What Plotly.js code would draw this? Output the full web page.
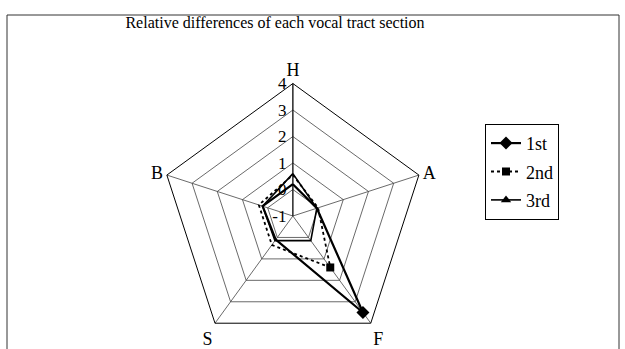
<!DOCTYPE html>
<html>
<head>
<meta charset="utf-8">
<script src="https://cdn.plot.ly/plotly-3.0.1.min.js"></script>
<style>html,body{margin:0;padding:0;background:#fff;}#chart{width:625px;height:349px;}</style>
</head>
<body>
<div id="chart"></div>
<script>
// Categories (clockwise from top)
const categories = ["H", "A", "F", "S", "B"];
// Series values
const first  = [0.2, -0.05, 3.5, 0.1, 0.2];
const second = [0.55, 0.0, 1.4, 0.35, 0.35];
const third  = [0.6, -0.05, 0.15, 0.15, 0.2];
const seriesNames = ["1st", "2nd", "3rd"];
const radialTicks = [-1, 0, 1, 2, 3, 4];

function closed(arr) { return arr.concat([arr[0]]); }

const serif = "Liberation Serif, Times New Roman, serif";

const traces = [
  {values: first, dash: "solid", width: 2.2, symbol: "diamond", size: 10},
  {values: second, dash: "dot", width: 1.8, symbol: "square", size: 8},
  {values: third, dash: "solid", width: 1.6, symbol: "triangle-up", size: 9}
].map((s, i) => ({
  type: "scatterpolar",
  r: closed(s.values),
  theta: closed(categories),
  mode: "lines+markers",
  name: seriesNames[i],
  legendgroup: "g" + i,
  line: {color: "#000", width: s.width, dash: s.dash},
  marker: {color: "#000", symbol: s.symbol, size: s.size},
  cliponaxis: false
}));

const layout = {
  width: 625, height: 349,
  margin: {l: 0, r: 0, t: 0, b: 0},
  paper_bgcolor: "#fff",
  plot_bgcolor: "#fff",
  font: {family: serif, color: "#000", size: 16},
  title: {
    text: "Relative differences of each vocal tract section",
    font: {family: serif, size: 16, color: "#000"},
    x: 0.44, xanchor: "center", y: 0.935, yanchor: "middle"
  },
  polar: {
    domain: {x: [0.2566, 0.6806], y: [0.0014, 0.7607]},
    gridshape: "linear",
    bgcolor: "#fff",
    radialaxis: {
      range: [-1, 4],
      tickvals: radialTicks,
      ticktext: radialTicks.map(String),
      angle: 90,
      tickangle: 90,
      side: "counterclockwise",
      showline: true,
      linecolor: "#000",
      linewidth: 1,
      gridcolor: "#444",
      gridwidth: 0.8,
      ticks: "",
      tickfont: {family: serif, size: 17, color: "#000"}
    },
    angularaxis: {
      rotation: 90,
      direction: "clockwise",
      showline: true,
      linecolor: "#000",
      linewidth: 1,
      gridcolor: "#444",
      gridwidth: 0.8,
      ticks: "",
      tickfont: {family: serif, size: 18, color: "#000"}
    }
  },
  showlegend: true,
  legend: {
    x: 0.776, xanchor: "left",
    y: 0.645, yanchor: "top",
    bordercolor: "#000", borderwidth: 1,
    bgcolor: "#fff",
    font: {family: serif, size: 18, color: "#000"},
    traceorder: "grouped",
    tracegroupgap: 2
  },
  shapes: [{
    type: "rect", xref: "paper", yref: "paper",
    x0: 7/625, x1: 619/625, y0: -0.05, y1: 1 - 15/349,
    line: {color: "#333", width: 1}
  }]
};

Plotly.newPlot("chart", traces, layout, {displayModeBar: false, staticPlot: true});
</script>
</body>
</html>
